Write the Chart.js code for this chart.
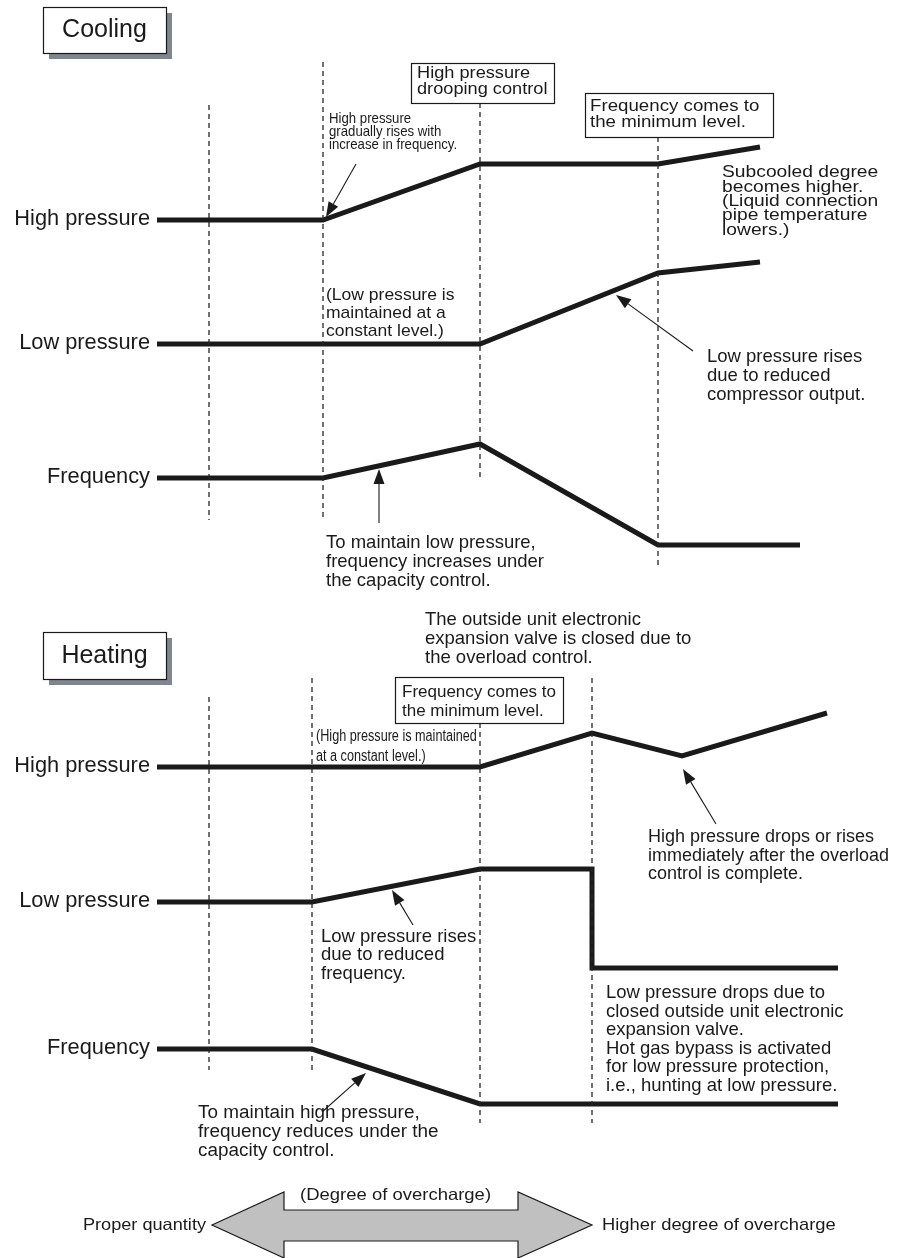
<!DOCTYPE html>
<html>
<head>
<meta charset="utf-8">
<script src="https://cdn.jsdelivr.net/npm/chart.js@4.4.1/dist/chart.umd.min.js"></script>
<style>
html,body{margin:0;padding:0;background:#fff;}
#c{display:block;}
</style>
</head>
<body>
<canvas id="c" width="901" height="1258" style="width:901px;height:1258px"></canvas>
<script>
// ---------- DATA (schematic units on a 901 x 1258 drawing grid) ----------
const seriesLabels = ['High pressure', 'Low pressure', 'Frequency'];

// Cooling
const coolHighX = [157, 323, 480, 658, 760];
const coolHighY = [220, 220, 164, 164, 147];
const coolLowX  = [157, 480, 658, 760];
const coolLowY  = [344, 344, 273, 262];
const coolFreqX = [157, 323, 480, 658, 800];
const coolFreqY = [478, 478, 444, 545, 545];
const coolPhaseX      = [209, 323, 480, 658];
const coolPhaseTop    = [105, 62, 103, 137];
const coolPhaseBottom = [520, 520, 477, 568];

// Heating
const heatHighX = [157, 480, 592, 682, 827];
const heatHighY = [767, 767, 733, 756, 713];
const heatLowX  = [157, 312, 480, 592, 592, 838];
const heatLowY  = [902, 902, 869, 869, 968, 968];
const heatFreqX = [157, 312, 480, 838];
const heatFreqY = [1049, 1049, 1104, 1104];
const heatPhaseX      = [209, 312, 480, 592];
const heatPhaseTop    = [697, 678, 723, 678];
const heatPhaseBottom = [1070, 1070, 1123, 1123];

// ---------- build datasets ----------
const INK = '#1a1a1a';
function pts(xs, ys){ return xs.map((x,i)=>({x:x, y:ys[i]})); }
function thick(label, xs, ys){
  return {label, data: pts(xs, ys), showLine: true, borderColor: INK, borderWidth: 5,
    pointRadius: 0, borderCapStyle: 'butt', borderJoinStyle: 'miter', tension: 0, fill: false, clip: false};
}
function dashed(xs, tops, bottoms){
  return xs.map((x,i)=>({label:'phase', data:[{x:x,y:tops[i]},{x:x,y:bottoms[i]}], showLine:true,
    borderColor:'#262626', borderWidth:1.3, borderDash:[5,4], pointRadius:0, fill:false, clip:false}));
}
const datasets = [
  ...dashed(coolPhaseX, coolPhaseTop, coolPhaseBottom),
  ...dashed(heatPhaseX, heatPhaseTop, heatPhaseBottom),
  thick('Cooling ' + seriesLabels[0], coolHighX, coolHighY),
  thick('Cooling ' + seriesLabels[1], coolLowX, coolLowY),
  thick('Cooling ' + seriesLabels[2], coolFreqX, coolFreqY),
  thick('Heating ' + seriesLabels[0], heatHighX, heatHighY),
  thick('Heating ' + seriesLabels[1], heatLowX, heatLowY),
  thick('Heating ' + seriesLabels[2], heatFreqX, heatFreqY),
];

// ---------- annotation plugin ----------
const FONT = '"Liberation Sans", Arial, Helvetica, sans-serif';
const annot = {
  id: 'annot',
  afterDatasetsDraw(chart){
    const ctx = chart.ctx, xs = chart.scales.x, ys = chart.scales.y;
    const X = v => xs.getPixelForValue(v), Y = v => ys.getPixelForValue(v);

    function text(lines, x, y, o){
      const lh = o.lh || o.size * 1.05;
      lines.forEach((s, i)=>{
        ctx.save();
        ctx.translate(X(x), Y(y) + i*lh);
        ctx.scale(o.sx || 1, o.sy || 1);
        ctx.font = `${o.size}px ${FONT}`;
        ctx.textAlign = o.align || 'left';
        ctx.textBaseline = 'middle';
        ctx.fillStyle = INK;
        ctx.fillText(s, 0, 0);
        ctx.restore();
      });
    }
    function box(x1, y1, x2, y2, shadow){
      ctx.save();
      if (shadow){
        ctx.fillStyle = '#80868e';
        ctx.fillRect(X(x1)+6, Y(y1)+6, X(x2)-X(x1), Y(y2)-Y(y1));
      }
      ctx.fillStyle = '#fff';
      ctx.fillRect(X(x1), Y(y1), X(x2)-X(x1), Y(y2)-Y(y1));
      ctx.strokeStyle = INK; ctx.lineWidth = 1.2;
      ctx.strokeRect(X(x1)+0.5, Y(y1)+0.5, X(x2)-X(x1), Y(y2)-Y(y1));
      ctx.restore();
    }
    function arrow(x1, y1, x2, y2){
      const ax = X(x1), ay = Y(y1), bx = X(x2), by = Y(y2);
      const ang = Math.atan2(by-ay, bx-ax), L = 15, Wd = 5.5;
      const hx = bx - L*Math.cos(ang), hy = by - L*Math.sin(ang);
      ctx.save();
      ctx.strokeStyle = INK; ctx.fillStyle = INK; ctx.lineWidth = 1.1;
      ctx.beginPath(); ctx.moveTo(ax, ay); ctx.lineTo(hx, hy); ctx.stroke();
      ctx.beginPath();
      ctx.moveTo(bx, by);
      ctx.lineTo(hx + Wd*Math.sin(ang), hy - Wd*Math.cos(ang));
      ctx.lineTo(hx - Wd*Math.sin(ang), hy + Wd*Math.cos(ang));
      ctx.closePath(); ctx.fill();
      ctx.restore();
    }

    // ----- Cooling -----
    box(43, 7, 166, 53, true);
    text(['Cooling'], 104.5, 30, {size: 25, align: 'center'});
    box(411, 63, 554, 103, false);
    text(['High pressure', 'drooping control'], 417, 73, {size: 17, sx: 1.07, lh: 16.5});
    box(585, 93, 773, 137, false);
    text(['Frequency comes to', 'the minimum level.'], 590, 106.5, {size: 17, sx: 1.1, sy: 0.95, lh: 15.8});

    text([seriesLabels[0]], 150, 219, {size: 21.8, align: 'right'});
    text([seriesLabels[1]], 150, 343, {size: 21.8, align: 'right'});
    text([seriesLabels[2]], 150, 477, {size: 21.8, align: 'right'});

    text(['High pressure', 'gradually rises with', 'increase in frequency.'], 329, 118.5, {size: 15, sx: 0.88, lh: 13.4});
    text(['Subcooled degree', 'becomes higher.', '(Liquid connection', 'pipe temperature', 'lowers.)'], 722, 173, {size: 17.5, sx: 1.1, sy: 0.9, lh: 14.3});
    text(['(Low pressure is', 'maintained at a', 'constant level.)'], 326, 295, {size: 17, sx: 1.03, lh: 18});
    text(['Low pressure rises', 'due to reduced', 'compressor output.'], 707, 357, {size: 18.5, lh: 19});
    text(['To maintain low pressure,', 'frequency increases under', 'the capacity control.'], 326, 543, {size: 18.5, lh: 18.8});

    arrow(356, 164, 326, 217);
    arrow(693, 351, 616, 295);
    arrow(379, 523, 379, 469);

    // ----- Heating -----
    box(43, 632, 166, 679, true);
    text(['Heating'], 104.5, 656, {size: 25, align: 'center'});
    text(['The outside unit electronic', 'expansion valve is closed due to', 'the overload control.'], 425, 620, {size: 18.5, lh: 19});
    box(395, 677, 563, 723, false);
    text(['Frequency comes to', 'the minimum level.'], 402, 692, {size: 17, lh: 19});
    text(['(High pressure is maintained', 'at a constant level.)'], 316, 737, {size: 16, sx: 0.79, lh: 20});

    text([seriesLabels[0]], 150, 766, {size: 21.8, align: 'right'});
    text([seriesLabels[1]], 150, 901, {size: 21.8, align: 'right'});
    text([seriesLabels[2]], 150, 1048, {size: 21.8, align: 'right'});

    text(['High pressure drops or rises', 'immediately after the overload', 'control is complete.'], 648, 837, {size: 18, lh: 18.7});
    text(['Low pressure rises', 'due to reduced', 'frequency.'], 321, 937, {size: 18.5, lh: 18.3});
    text(['Low pressure drops due to', 'closed outside unit electronic', 'expansion valve.', 'Hot gas bypass is activated', 'for low pressure protection,', 'i.e., hunting at low pressure.'], 606, 993, {size: 18.5, lh: 18.6});
    text(['To maintain high pressure,', 'frequency reduces under the', 'capacity control.'], 198, 1113, {size: 18, sx: 1.05, lh: 19});

    arrow(716, 824, 683, 769);
    arrow(413, 925, 392, 890);
    arrow(322, 1112, 366, 1073);

    // ----- Degree of overcharge double arrow -----
    const poly = [[212,1225],[284,1192],[284,1210],[518,1210],[518,1192],[592,1225],[518,1258],[518,1241],[284,1241],[284,1258]];
    ctx.save();
    ctx.beginPath();
    poly.forEach((p,i)=>{ if(i===0) ctx.moveTo(X(p[0]),Y(p[1])); else ctx.lineTo(X(p[0]),Y(p[1])); });
    ctx.closePath();
    ctx.fillStyle = '#c0c0c0'; ctx.fill();
    ctx.strokeStyle = INK; ctx.lineWidth = 1.2; ctx.stroke();
    ctx.restore();
    text(['(Degree of overcharge)'], 300, 1195, {size: 16.5, sx: 1.12});
    text(['Proper quantity'], 206, 1225, {size: 16.5, sx: 1.1, align: 'right'});
    text(['Higher degree of overcharge'], 602, 1225, {size: 17, sx: 1.08});
  }
};

new Chart(document.getElementById('c'), {
  type: 'scatter',
  data: { datasets },
  options: {
    responsive: false,
    animation: false,
    devicePixelRatio: 1,
    layout: { padding: 0 },
    plugins: { legend: { display: false }, tooltip: { enabled: false } },
    events: [],
    scales: {
      x: { type: 'linear', min: 0, max: 901, display: false },
      y: { type: 'linear', min: 0, max: 1258, reverse: true, display: false }
    }
  },
  plugins: [annot]
});
</script>
</body>
</html>
